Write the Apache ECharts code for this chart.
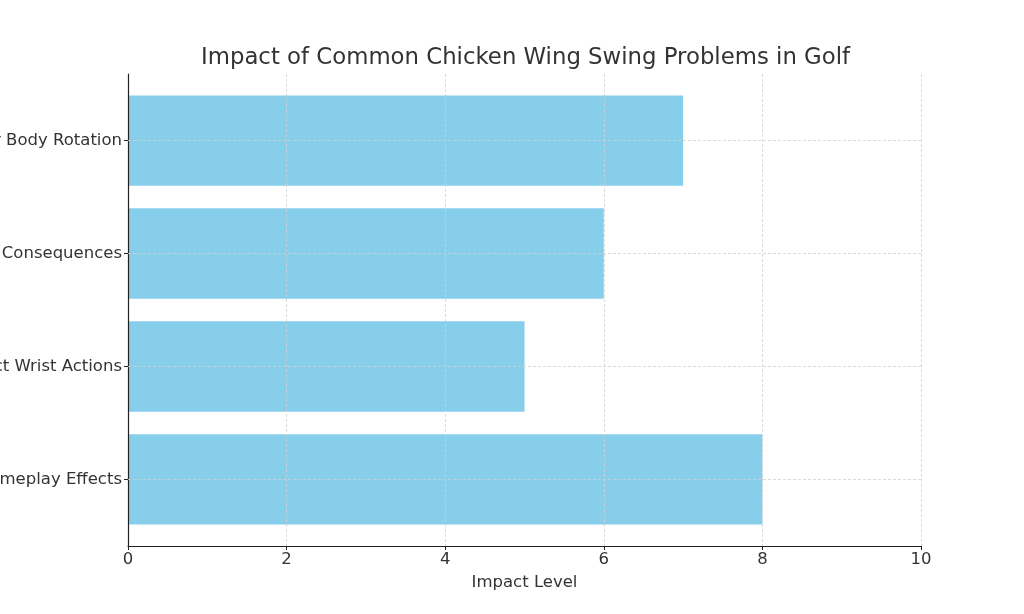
<!DOCTYPE html>
<html><head><meta charset="utf-8">
<script src="https://cdn.jsdelivr.net/npm/echarts@6/dist/echarts.min.js"></script>
<style>html,body{margin:0;padding:0;background:#fff}#c{width:1024px;height:614px}</style>
</head><body><div id="c"></div>
<script>
const categories = ["Gameplay Effects", "Incorrect Wrist Actions", "Swing Consequences", "Improper Body Rotation"];
const values = [8, 5, 6, 7];
const xTicks = [0, 2, 4, 6, 8, 10];
const titleText = "Impact of Common Chicken Wing Swing Problems in Golf";
const xName = "Impact Level";

const font = "DejaVu Sans";
const idx = categories.map((_, i) => i);
const chart = echarts.init(document.getElementById('c'), null, {renderer: 'canvas'});
chart.setOption({
  animation: false,
  backgroundColor: '#fff',
  title: {text: titleText, left: 196, top: 42, textStyle: {fontFamily: font, fontSize: 22.8, fontWeight: 'normal', color: '#333'}},
  grid: {left: 128, right: 103, top: 74, bottom: 68, containLabel: false, outerBoundsMode: 'none'},
  xAxis: {
    type: 'value', min: 0, max: 10, interval: 2,
    name: xName, nameLocation: 'middle', nameGap: 28,
    nameTextStyle: {fontFamily: font, fontSize: 16.5, color: '#333'},
    axisLine: {show: true, onZero: false, lineStyle: {color: '#222', width: 1.2}},
    axisTick: {show: true, length: 4, lineStyle: {color: '#222'}},
    axisLabel: {fontFamily: font, fontSize: 16.5, color: '#333', margin: 5},
    splitLine: {show: true, lineStyle: {color: '#d0d0d0', type: [3, 2], width: 0.8}}
  },
  yAxis: {
    type: 'value', min: -0.59, max: 3.59,
    axisLine: {show: true, onZero: false, lineStyle: {color: '#222', width: 1.2}},
    axisTick: {show: true, length: 4, customValues: idx, lineStyle: {color: '#222'}},
    axisLabel: {fontFamily: font, fontSize: 16.5, color: '#333', margin: 6, customValues: idx,
      formatter: v => categories[Math.round(v)] || ''},
    splitLine: {show: false}
  },
  series: [{
    type: 'custom',
    data: values.map((v, i) => [v, i]),
    encode: {x: 0, y: 1},
    clip: false,
    z: -1,
    renderItem: function (params, api) {
      const v = api.value(0), i = api.value(1);
      const s = api.coord([0, i]);
      const e = api.coord([v, i]);
      const h = api.size([0, 0.8])[1];
      return {type: 'rect', shape: {x: s[0], y: s[1] - h / 2, width: e[0] - s[0], height: h},
        style: {fill: '#87CEEB'}};
    },
    markLine: {
      silent: true, symbol: 'none', label: {show: false}, z: 5,
      lineStyle: {color: '#d0d0d0', type: [3, 2], width: 0.8},
      emphasis: {disabled: true},
      data: idx.map(i => ({yAxis: i}))
    }
  }]
});
</script></body></html>
